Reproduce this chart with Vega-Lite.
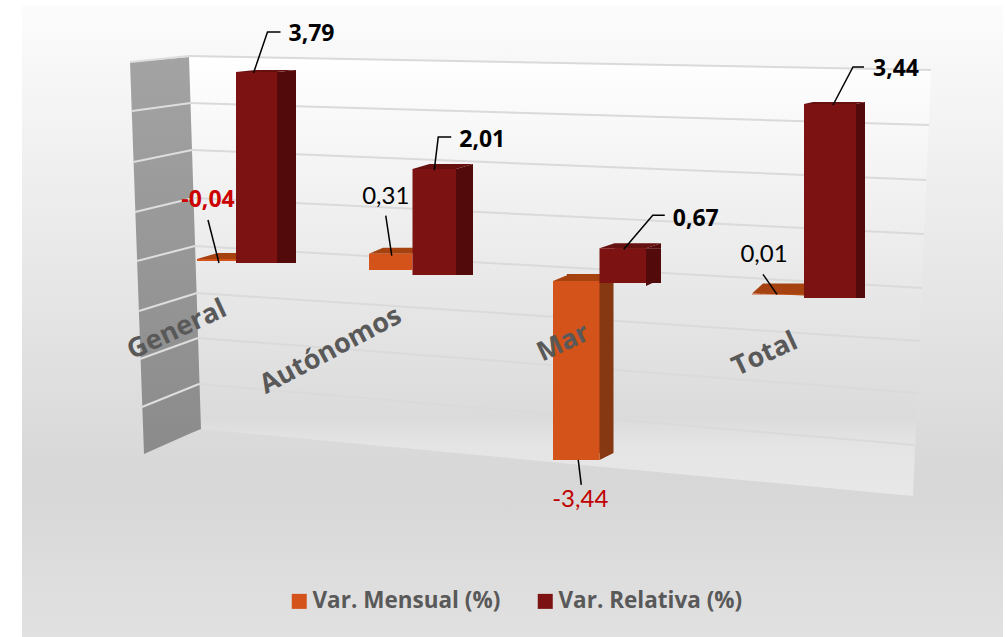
{"$schema":"https://vega.github.io/schema/vega-lite/v6.json","width":1005,"height":637,"padding":0,"autosize":{"type":"fit","contains":"padding"},"background":"#ffffff","config":{"view":{"stroke":null},"text":{"font":"Lato"}},
"datasets":{
"bars":[{"category":"General","series":"Var. Mensual (%)","value":-0.04,"label":"-0,04"},{"category":"General","series":"Var. Relativa (%)","value":3.79,"label":"3,79"},{"category":"Autónomos","series":"Var. Mensual (%)","value":0.31,"label":"0,31"},{"category":"Autónomos","series":"Var. Relativa (%)","value":2.01,"label":"2,01"},{"category":"Mar","series":"Var. Mensual (%)","value":-3.44,"label":"-3,44"},{"category":"Mar","series":"Var. Relativa (%)","value":0.67,"label":"0,67"},{"category":"Total","series":"Var. Mensual (%)","value":0.01,"label":"0,01"},{"category":"Total","series":"Var. Relativa (%)","value":3.44,"label":"3,44"}],
"chartArea":[{"depth":22,"upper":5,"lower":637},{"depth":1003,"upper":5,"lower":637}],
"leftWall":[{"depth":130,"upper":62,"lower":62},{"depth":144,"upper":61,"lower":454},{"depth":189,"upper":57,"lower":434},{"depth":201,"upper":429,"lower":429}],
"backWall":[{"depth":189,"upper":57,"lower":57},{"depth":201,"upper":57,"lower":429},{"depth":913,"upper":70,"lower":496},{"depth":931,"upper":70,"lower":70}],
"backGrid":[{"line":1,"depth":189,"level":56},{"line":1,"depth":931,"level":70},{"line":2,"depth":190.5,"level":103},{"line":2,"depth":929,"level":125},{"line":3,"depth":192,"level":150},{"line":3,"depth":926.5,"level":180},{"line":4,"depth":193.5,"level":198},{"line":4,"depth":924,"level":234},{"line":5,"depth":195,"level":246},{"line":5,"depth":922,"level":288},{"line":6,"depth":197,"level":293},{"line":6,"depth":920,"level":341},{"line":7,"depth":198,"level":338},{"line":7,"depth":917.5,"level":393},{"line":8,"depth":199,"level":384},{"line":8,"depth":915,"level":445}],
"sideGrid":[{"line":1,"depth":130,"level":62},{"line":1,"depth":189,"level":56},{"line":2,"depth":132,"level":111},{"line":2,"depth":190.5,"level":103},{"line":3,"depth":133.5,"level":162},{"line":3,"depth":192,"level":150},{"line":4,"depth":135,"level":212},{"line":4,"depth":193.5,"level":198},{"line":5,"depth":137,"level":261},{"line":5,"depth":195,"level":246},{"line":6,"depth":139,"level":311},{"line":6,"depth":197,"level":293},{"line":7,"depth":140,"level":359},{"line":7,"depth":198,"level":338},{"line":8,"depth":142,"level":407},{"line":8,"depth":199,"level":384}]
},
"resolve":{"scale":{"x":"independent","y":"independent"}},
"layer":[
{"encoding":{"x":{"field":"depth","type":"quantitative","axis":null,"scale":{"domain":[0,1005],"nice":false,"zero":false}},"y":{"field":"upper","type":"quantitative","axis":null,"scale":{"domain":[0,637],"reverse":true,"nice":false,"zero":false}},"y2":{"field":"lower"}},
"layer":[
{"data":{"name":"chartArea"},"mark":{"type":"area","fill":{"gradient":"linear","x1":0,"y1":0,"x2":0,"y2":1,"stops":[{"offset":0,"color":"#fcfcfc"},{"offset":0.75,"color":"#d7d7d7"},{"offset":1,"color":"#e1e1e1"}]}}},
{"data":{"name":"backWall"},"mark":{"type":"area","fill":{"gradient":"linear","x1":0,"y1":0,"x2":0,"y2":1,"stops":[{"offset":0,"color":"#ffffff"},{"offset":0.82,"color":"#dbdbdb"},{"offset":0.88,"color":"#e4e4e4"},{"offset":1,"color":"#e8e8e8"}]}}},
{"data":{"name":"leftWall"},"mark":{"type":"area","fill":{"gradient":"linear","x1":0,"y1":0,"x2":0,"y2":1,"stops":[{"offset":0,"color":"#a3a3a3"},{"offset":1,"color":"#8b8b8b"}]}}},
{"data":{"name":"backGrid"},"mark":{"type":"line","color":"#dadada","strokeWidth":2},"encoding":{"y":{"field":"level","type":"quantitative"},"y2":null,"detail":{"field":"line"}}},
{"data":{"name":"sideGrid"},"mark":{"type":"line","color":"#dedede","strokeWidth":2},"encoding":{"y":{"field":"level","type":"quantitative"},"y2":null,"detail":{"field":"line"}}}
]},
{"data":{"name":"bars"},"transform":[{"filter":"datum.category==='General'"}],
"encoding":{"x":{"field":"series","type":"nominal","axis":null,"scale":{"type":"band","domain":["Var. Mensual (%)","Var. Relativa (%)"],"range":[195,277],"paddingInner":0,"paddingOuter":0}},"y":{"field":"value","type":"quantitative","axis":null,"scale":{"domain":[-7.421,5.218],"nice":false,"zero":false}}},
"layer":[
{"transform":[{"filter":"datum.series==='Var. Mensual (%)'"}],"layer":[
{"mark":{"type":"point","shape":"M-18.5,-4L22.5,-4L43,-10L2,-10Z","size":4,"filled":true,"color":"#a5420f","opacity":1},"encoding":{"y":{"datum":0}}},
{"mark":{"type":"bar","xOffset":2,"yOffset":-4,"y2Offset":-4},"encoding":{"color":{"field":"series","type":"nominal","scale":{"domain":["Var. Mensual (%)","Var. Relativa (%)"],"range":["#d4531a","#7c1212"]},"legend":{"title":null,"orient":"none","legendX":288,"legendY":590,"direction":"horizontal","columns":2,"columnPadding":33,"symbolType":"square","symbolSize":225,"symbolStrokeWidth":0,"labelFont":"Open Sans","labelFontWeight":"bold","labelFontSize":22.5,"labelColor":"#595959","labelLimit":300,"labelOffset":2}}}}
]},
{"transform":[{"filter":"datum.series==='Var. Relativa (%)'"}],"layer":[
{"mark":{"type":"bar","color":"#520a0a","xOffset":19,"yOffset":0,"y2Offset":-6}},
{"mark":{"type":"point","shape":"M20.5,0L39.5,0L39.5,-2Z","size":4,"filled":true,"color":"#520a0a","opacity":1}},
{"mark":{"type":"point","shape":"M20.5,-6L39.5,-6L20.5,0Z","size":4,"filled":true,"color":"#520a0a","opacity":1},"encoding":{"y":{"datum":0}}},
{"mark":{"type":"point","shape":"M-20.5,0L20.5,0L39.5,-2L-1,-2Z","size":4,"filled":true,"color":"#66100f","opacity":1}},
{"mark":{"type":"bar"},"encoding":{"color":{"field":"series","type":"nominal"}}},
{"mark":{"type":"point","shape":"M-3,1L11,-40L24,-40","size":4,"filled":false,"stroke":"#000000","strokeWidth":1.5,"opacity":1}},
{"mark":{"type":"text","font":"Open Sans","fontWeight":"bold","fontSize":23,"color":"#000000","dx":55,"dy":-38},"encoding":{"text":{"field":"label"}}}
]},
{"transform":[{"filter":"datum.series==='Var. Mensual (%)'"}],"layer":[
{"mark":{"type":"point","shape":"M3.5,-2L-7.5,-45","size":4,"filled":false,"stroke":"#000000","strokeWidth":1.5,"opacity":1}},
{"mark":{"type":"text","font":"Open Sans","fontWeight":"bold","fontSize":23,"color":"#cc0000","dx":-7.5,"dy":-65},"encoding":{"text":{"field":"label"}}},
{"mark":{"type":"text","font":"Open Sans","fontWeight":"bold","fontSize":27,"color":"#595959","angle":-25,"xOffset":-38.5,"yOffset":65},"encoding":{"text":{"field":"category"}}}
]}
]},
{"data":{"name":"bars"},"transform":[{"filter":"datum.category==='Autónomos'"}],
"encoding":{"x":{"field":"series","type":"nominal","axis":null,"scale":{"type":"band","domain":["Var. Mensual (%)","Var. Relativa (%)"],"range":[369,456],"paddingInner":0,"paddingOuter":0}},"y":{"field":"value","type":"quantitative","axis":null,"scale":{"domain":[-6.869,5.218],"nice":false,"zero":false}}},
"layer":[
{"transform":[{"filter":"datum.series==='Var. Mensual (%)'"}],"layer":[
{"mark":{"type":"point","shape":"M-21.75,-5L21.75,-5L36,-11L-7.75,-11Z","size":4,"filled":true,"color":"#a5420f","opacity":1}},
{"mark":{"type":"bar","yOffset":-5,"y2Offset":-5},"encoding":{"color":{"field":"series","type":"nominal"}}}
]},
{"transform":[{"filter":"datum.series==='Var. Relativa (%)'"}],"layer":[
{"mark":{"type":"bar","color":"#520a0a","xOffset":17,"yOffset":0,"y2Offset":-7}},
{"mark":{"type":"point","shape":"M21.75,0L38.75,0L38.75,-5Z","size":4,"filled":true,"color":"#520a0a","opacity":1}},
{"mark":{"type":"point","shape":"M21.75,-7L38.75,-7L21.75,0Z","size":4,"filled":true,"color":"#520a0a","opacity":1},"encoding":{"y":{"datum":0}}},
{"mark":{"type":"point","shape":"M-21.75,0L21.75,0L38.75,-5L-4.75,-5Z","size":4,"filled":true,"color":"#66100f","opacity":1}},
{"mark":{"type":"bar"},"encoding":{"color":{"field":"series","type":"nominal"}}},
{"mark":{"type":"point","shape":"M0,1L4,-32L17,-32","size":4,"filled":false,"stroke":"#000000","strokeWidth":1.5,"opacity":1}},
{"mark":{"type":"text","font":"Open Sans","fontWeight":"bold","fontSize":23,"color":"#000000","dx":48,"dy":-29},"encoding":{"text":{"field":"label"}}}
]},
{"transform":[{"filter":"datum.series==='Var. Mensual (%)'"}],"layer":[
{"mark":{"type":"point","shape":"M1,-3L-5,-43","size":4,"filled":false,"stroke":"#000000","strokeWidth":1.5,"opacity":1}},
{"mark":{"type":"text","font":"Lato","fontSize":24,"color":"#000000","dx":-5,"dy":-62},"encoding":{"text":{"field":"label"}}},
{"mark":{"type":"text","font":"Open Sans","fontWeight":"bold","fontSize":27,"color":"#595959","angle":-28,"xOffset":-60,"yOffset":92},"encoding":{"text":{"field":"category"}}}
]}
]},
{"data":{"name":"bars"},"transform":[{"filter":"datum.category==='Mar'"}],
"encoding":{"x":{"field":"series","type":"nominal","axis":null,"scale":{"type":"band","domain":["Var. Mensual (%)","Var. Relativa (%)"],"range":[553,646],"paddingInner":0,"paddingOuter":0}},"y":{"field":"value","type":"quantitative","axis":null,"scale":{"domain":[-6.75,5.5],"nice":false,"zero":false}}},
"layer":[
{"transform":[{"filter":"datum.series==='Var. Mensual (%)'"}],"layer":[
{"mark":{"type":"bar","color":"#853812","xOffset":14,"yOffset":-12,"y2Offset":-5}},
{"mark":{"type":"point","shape":"M23.25,-5L37.25,-5L37.25,-12Z","size":4,"filled":true,"color":"#853812","opacity":1},"encoding":{"y":{"datum":0}}},
{"mark":{"type":"point","shape":"M23.25,-12L37.25,-12L23.25,-5Z","size":4,"filled":true,"color":"#853812","opacity":1}},
{"mark":{"type":"point","shape":"M-23.25,-5L23.25,-5L37.25,-12L-6.25,-12Z","size":4,"filled":true,"color":"#a5420f","opacity":1},"encoding":{"y":{"datum":0}}},
{"mark":{"type":"bar","yOffset":-5,"y2Offset":-5},"encoding":{"color":{"field":"series","type":"nominal"}}}
]},
{"transform":[{"filter":"datum.series==='Var. Relativa (%)'"}],"layer":[
{"mark":{"type":"bar","color":"#520a0a","xOffset":15,"yOffset":-3,"y2Offset":-7}},
{"mark":{"type":"point","shape":"M23.25,-3L38.25,-3L38.25,-8Z","size":4,"filled":true,"color":"#520a0a","opacity":1}},
{"mark":{"type":"point","shape":"M23.25,-7L38.25,-7L23.25,0Z","size":4,"filled":true,"color":"#520a0a","opacity":1},"encoding":{"y":{"datum":0}}},
{"mark":{"type":"point","shape":"M-23.25,-3L23.25,-3L38.25,-8L-8.25,-8Z","size":4,"filled":true,"color":"#66100f","opacity":1}},
{"mark":{"type":"bar","yOffset":-3,"y2Offset":0},"encoding":{"color":{"field":"series","type":"nominal"}}},
{"mark":{"type":"point","shape":"M1,-2L30,-36L42,-36","size":4,"filled":false,"stroke":"#000000","strokeWidth":1.5,"opacity":1}},
{"mark":{"type":"text","font":"Open Sans","fontWeight":"bold","fontSize":23,"color":"#000000","dx":73,"dy":-32},"encoding":{"text":{"field":"label"}}}
]},
{"transform":[{"filter":"datum.series==='Var. Mensual (%)'"}],"layer":[
{"mark":{"type":"point","shape":"M2,-5L5,20","size":4,"filled":false,"stroke":"#000000","strokeWidth":1.5,"opacity":1}},
{"mark":{"type":"text","font":"Lato","fontSize":24,"color":"#c00000","dx":4,"dy":35},"encoding":{"text":{"field":"label"}}},
{"mark":{"type":"text","font":"Open Sans","fontWeight":"bold","fontSize":27,"color":"#595959","angle":-25,"xOffset":-13,"yOffset":57},"encoding":{"y":{"datum":0},"text":{"field":"category"}}}
]}
]},
{"data":{"name":"bars"},"transform":[{"filter":"datum.category==='Total'"}],
"encoding":{"x":{"field":"series","type":"nominal","axis":null,"scale":{"type":"band","domain":["Var. Mensual (%)","Var. Relativa (%)"],"range":[752,856],"paddingInner":0,"paddingOuter":0}},"y":{"field":"value","type":"quantitative","axis":null,"scale":{"domain":[-6.011,5.284],"nice":false,"zero":false}}},
"layer":[
{"transform":[{"filter":"datum.series==='Var. Mensual (%)'"}],"layer":[
{"mark":{"type":"point","shape":"M-26,-4L26,-2L37,-14L-15,-14Z","size":4,"filled":true,"color":"#a5420f","opacity":1}},
{"mark":{"type":"bar","yOffset":-3,"y2Offset":-2},"encoding":{"color":{"field":"series","type":"nominal"}}}
]},
{"transform":[{"filter":"datum.series==='Var. Relativa (%)'"}],"layer":[
{"mark":{"type":"bar","color":"#520a0a","xOffset":9,"yOffset":0,"y2Offset":-7}},
{"mark":{"type":"point","shape":"M26,0L35,0L35,-2Z","size":4,"filled":true,"color":"#520a0a","opacity":1}},
{"mark":{"type":"point","shape":"M26,-7L35,-7L26,0Z","size":4,"filled":true,"color":"#520a0a","opacity":1},"encoding":{"y":{"datum":0}}},
{"mark":{"type":"point","shape":"M-26,0L26,0L35,-2L-17,-2Z","size":4,"filled":true,"color":"#66100f","opacity":1}},
{"mark":{"type":"bar"},"encoding":{"color":{"field":"series","type":"nominal"}}},
{"mark":{"type":"point","shape":"M3,1L23,-37L34,-37","size":4,"filled":false,"stroke":"#000000","strokeWidth":1.5,"opacity":1}},
{"mark":{"type":"text","font":"Open Sans","fontWeight":"bold","fontSize":23,"color":"#000000","dx":66,"dy":-35},"encoding":{"text":{"field":"label"}}}
]},
{"transform":[{"filter":"datum.series==='Var. Mensual (%)'"}],"layer":[
{"mark":{"type":"point","shape":"M-15,-23L-1,-3","size":4,"filled":false,"stroke":"#000000","strokeWidth":1.5,"opacity":1}},
{"mark":{"type":"text","font":"Lato","fontSize":24,"color":"#000000","dx":-14,"dy":-42},"encoding":{"text":{"field":"label"}}},
{"mark":{"type":"text","font":"Open Sans","fontWeight":"bold","fontSize":27,"color":"#595959","angle":-25,"xOffset":-13,"yOffset":57},"encoding":{"text":{"field":"category"}}}
]}
]}
]}
